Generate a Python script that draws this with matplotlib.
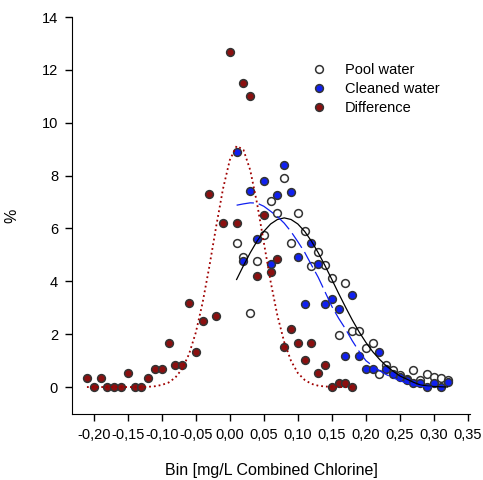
import matplotlib

matplotlib.use("Agg")  # headless
import matplotlib.pyplot as plt  # noqa: E402
import numpy as np  # noqa: E402
from matplotlib.ticker import FuncFormatter  # noqa: E402

plt.rcParams["font.family"] = ["Liberation Sans", "DejaVu Sans"]

# bins [mg/L combined chlorine]
diff_bins = np.round(np.arange(-0.21, 0.185, 0.01), 2)
water_bins = np.round(np.arange(0.01, 0.325, 0.01), 2)
clean_fit_bins = np.round(np.arange(0.01, 0.305, 0.01), 2)

# percentages
pool_pct = [5.44, 4.93, 2.79, 4.78, 5.75, 7.05, 6.6, 7.92, 5.46, 6.6, 5.91, 4.58,
            5.12, 4.62, 4.11, 1.97, 3.95, 2.12, 2.12, 1.46, 1.65, 0.49, 0.83, 0.64,
            0.45, 0.3, 0.64, 0.25, 0.49, 0.37, 0.33, 0.25]
clean_pct = [8.9, 4.78, 7.42, 5.6, 7.78, 4.66, 7.26, 8.4, 7.39, 4.93, 3.13, 5.46,
             4.66, 3.13, 3.32, 2.97, 1.19, 3.48, 1.19, 0.67, 0.67, 1.34, 0.67, 0.49,
             0.37, 0.26, 0.16, 0.16, 0.0, 0.16, 0.0, 0.2]
diff_pct = [0.35, 0.0, 0.35, 0.0, 0.0, 0.0, 0.52, 0.0, 0.0, 0.35, 0.68, 0.68,
            1.68, 0.83, 0.83, 3.17, 1.34, 2.51, 7.32, 2.69, 6.19, 12.69, 6.19, 11.49,
            11.01, 4.19, 6.5, 4.36, 4.85, 1.51, 2.18, 1.68, 1.01, 1.68, 0.52, 0.85,
            0.0, 0.17, 0.17, 0.0]

# fitted curves
pool_fit = [4.07, 4.59, 5.08, 5.52, 5.89, 6.17, 6.34, 6.40, 6.34, 6.17, 5.89, 5.52,
            5.08, 4.59, 4.07, 3.54, 3.03, 2.54, 2.09, 1.69, 1.34, 1.05, 0.80, 0.60,
            0.42, 0.30, 0.18, 0.08, 0.04, 0.02, 0.01, 0.0]
clean_fit = [6.88, 6.93, 6.97, 6.96, 6.84, 6.65, 6.45, 6.2, 5.88, 5.5, 5.1, 4.62,
             4.15, 3.6, 3.05, 2.6, 2.2, 1.75, 1.35, 1.0, 0.8, 0.62, 0.47, 0.35,
             0.24, 0.15, 0.08, 0.03, 0.0, 0.0]
diff_fit = [0, 0, 0, 0, 0, 0, 0, 0, 0, 0.01, 0.03, 0.08, 0.17, 0.36, 0.69, 1.24,
            2.06, 3.19, 4.57, 6.08, 7.50, 8.59, 9.12, 8.98, 8.21, 6.96, 5.47, 3.99,
            2.70, 1.70, 0.99, 0.53, 0.27, 0.12, 0.05, 0.02, 0.01, 0, 0, 0]

x_ticks = [-0.20, -0.15, -0.10, -0.05, 0.0, 0.05, 0.10, 0.15, 0.20, 0.25, 0.30, 0.35]
y_ticks = [0, 2, 4, 6, 8, 10, 12, 14]

BLUE = "#1020f0"
RED = "#8b1010"

fig = plt.figure(figsize=(4.83, 4.80), dpi=100)
ax = fig.add_axes([0.149, 0.1375, 0.824, 0.827])

mk = dict(linestyle="none", marker="o", markersize=5.6, markeredgecolor="#333333",
          markeredgewidth=1.1)
ax.plot(water_bins, pool_pct, markerfacecolor="white", label="Pool water", **mk)
ax.plot(water_bins, clean_pct, markerfacecolor=BLUE, label="Cleaned water", **mk)
ax.plot(diff_bins, diff_pct, markerfacecolor=RED, label="Difference", **mk)

ax.plot(water_bins, pool_fit, color="black", lw=0.9)
ax.plot(clean_fit_bins, clean_fit, color=BLUE, lw=0.9, dashes=(14, 4))
ax.plot(diff_bins, diff_fit, color="#a00000", lw=1.3, linestyle=":")

ax.set_xlim(-0.232, 0.353)
ax.set_ylim(-1.02, 14)
ax.set_xticks(x_ticks)
ax.set_yticks(y_ticks)
ax.xaxis.set_major_formatter(
    FuncFormatter(lambda v, _: ("%.2f" % (0.0 if abs(v) < 1e-9 else v)).replace(".", ",")))
ax.tick_params(direction="out", length=5, width=1, labelsize=10.5, pad=5)

for side in ("top", "right"):
    ax.spines[side].set_visible(False)

ax.set_xlabel("Bin [mg/L Combined Chlorine]", fontsize=11.5, labelpad=15)
ax.set_ylabel("%", fontsize=11.5, labelpad=16)

ax.legend(loc="upper left", bbox_to_anchor=(0.618, 0.896),
          bbox_transform=fig.transFigure, frameon=False, fontsize=10.5,
          handlelength=1.0, handletextpad=1.3, labelspacing=0.35, numpoints=1)

fig.savefig("out.png", dpi=100)
plt.close(fig)
